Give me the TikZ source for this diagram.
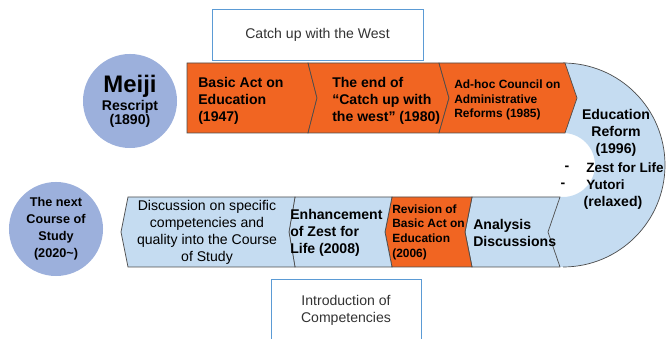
\documentclass[tikz,border=0pt]{standalone}
\usepackage{fontspec}
\setmainfont{Liberation Sans}
\usepackage{xcolor}
\usetikzlibrary{calc}

\definecolor{segorange}{RGB}{241,101,34}
\definecolor{segblue}{RGB}{197,220,241}
\definecolor{erablue}{RGB}{156,176,220}
\definecolor{boxblue}{RGB}{91,155,213}

\tikzset{
    seg/.style={draw=black!70, line width=0.5pt},
    era/.style={circle, fill=erablue, minimum size=2.35cm, inner sep=0pt, align=center, font=\bfseries\fontsize{9}{12}\selectfont},
    bandtext/.style={anchor=west, align=left, inner sep=0pt, font=\bfseries\fontsize{10}{12}\selectfont},
    smalltext/.style={bandtext, font=\bfseries\fontsize{8.5}{10.5}\selectfont},
    notebox/.style={draw=boxblue, line width=0.6pt, fill=white, align=center, text=black!80, font=\fontsize{10}{12}\selectfont}
}

\begin{document}
\begin{tikzpicture}[x=0.025cm, y=0.025cm]

    \useasboundingbox (0,0) rectangle (667,339);

    % Turn of the road
    \fill[segblue] (565,276) -- (563,276) arc[start angle=90, end angle=-90, radius=102]
        -- (560,72) -- (548,107) -- (560,142) -- (563,142)
        arc[start angle=-90, end angle=90, radius=32] -- (565,206) -- (577,241) -- cycle;
    \draw[seg] (563,276) arc[start angle=90, end angle=-90, radius=102];

    % Upper band, left to right
    \draw[seg, fill=segorange] (187,276) -- (308,276) -- (317,241) -- (308,206) -- (187,206) -- cycle;
    \draw[seg, fill=segorange] (308,276) -- (439,276) -- (449,241) -- (439,206) -- (308,206) -- (317,241) -- cycle;
    \draw[seg, fill=segorange] (439,276) -- (565,276) -- (577,241) -- (565,206) -- (439,206) -- (449,241) -- cycle;

    % Lower band, right to left
    \draw[seg, fill=segblue] (472,142) -- (560,142) -- (548,107) -- (560,72) -- (472,72) -- (465,107) -- cycle;
    \draw[seg, fill=segorange] (392,142) -- (472,142) -- (465,107) -- (472,72) -- (392,72) -- (385,107) -- cycle;
    \draw[seg, fill=segblue] (295,142) -- (392,142) -- (385,107) -- (392,72) -- (295,72) -- (289,107) -- cycle;
    \draw[seg, fill=segblue] (128,142) -- (295,142) -- (289,107) -- (295,72) -- (128,72) -- (121,107) -- cycle;

    % Eras
    \node[era, font=\bfseries\fontsize{10}{12}\selectfont] (meiji) at (130,238) {{\fontsize{17}{18}\selectfont Meiji}\\[1pt]Rescript\\[-2pt](1890)};
    \node[era] (nextcourse) at (56,110) {The next\\Course of\\Study\\(2020\textasciitilde)};

    % Upper band labels
    \node[bandtext] (basicact) at (198,238) {Basic Act on\\Education\\(1947)};
    \node[bandtext] (endcatch) at (332,238) {The end of\\“Catch up with\\the west” (1980)};
    \node[smalltext] (adhoc) at (454,239) {Ad-hoc Council on\\Administrative\\Reforms (1985)};

    % Turn labels
    \node[bandtext, anchor=center, align=center] (reform) at (616,206) {Education\\Reform\\(1996)};
    \node[bandtext, font=\bfseries\fontsize{9.6}{12}\selectfont] (zest) at (586,171) {Zest for Life};
    \node[bandtext, font=\bfseries\fontsize{9.6}{12}\selectfont] (yutori) at (586,154) {Yutori};
    \node[bandtext, anchor=center] (relaxed) at (613,136) {(relaxed)};
    \node[bandtext, anchor=center] (dasha) at (567,171) {-};
    \node[bandtext, anchor=center] (dashb) at (563,154) {-};

    % Lower band labels
    \node[align=center, inner sep=0pt, font=\fontsize{10}{12}\selectfont] (discussion) at (207,106.5) {Discussion on specific\\competencies and\\quality into the Course\\of Study};
    \node[bandtext] (enhance) at (290,106) {Enhancement\\of Zest for\\Life (2008)};
    \node[smalltext, font=\bfseries\fontsize{8.5}{10.4}\selectfont] (revision) at (392,107) {Revision of\\Basic Act on\\Education\\(2006)};
    \node[bandtext, font=\bfseries\fontsize{10}{11.5}\selectfont] (analysis) at (473,106) {Analysis\\Discussions};

    % Notes
    \node[notebox, minimum width=5.275cm, minimum height=1.275cm] (catchup) at (317.5,304.5) {Catch up with the West};
    \node[notebox, minimum width=3.75cm, minimum height=1.55cm] (competencies) at (346,29) {Introduction of\\Competencies};

\end{tikzpicture}
\end{document}
